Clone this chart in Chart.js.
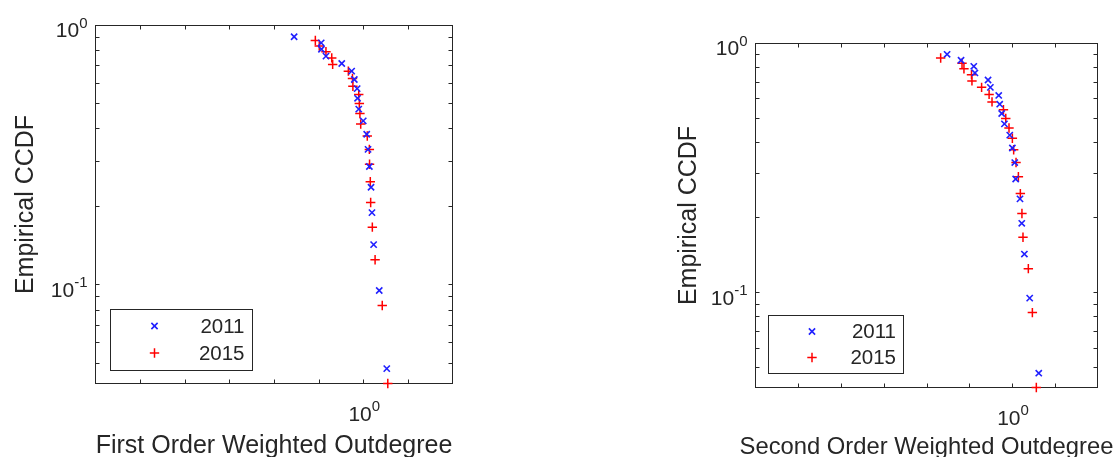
<!DOCTYPE html>
<html>
<head>
<meta charset="utf-8">
<script src="https://cdn.jsdelivr.net/npm/chart.js@4.4.1/dist/chart.umd.min.js"></script>
<style>
  html, body { margin: 0; padding: 0; background: #ffffff; }
  #wrap { position: relative; width: 1120px; height: 457px; overflow: hidden; }
  #wrap canvas { position: absolute; top: 0; }
</style>
</head>
<body>
<div id="wrap">
  <canvas id="firstOrder" width="560" height="457" style="left:0"></canvas>
  <canvas id="secondOrder" width="560" height="457" style="left:560px"></canvas>
</div>
<script>
// Series names
const yearLabels = ['2011', '2015'];

// Empirical CCDF levels of each year
const ccdf2011 = [0.905, 0.857, 0.810, 0.762, 0.714, 0.667, 0.619, 0.571, 0.524, 0.476,
                  0.429, 0.381, 0.333, 0.286, 0.238, 0.190, 0.143, 0.0952, 0.0476];
const ccdf2015 = [0.875, 0.833, 0.792, 0.750, 0.708, 0.667, 0.625, 0.583, 0.542, 0.500,
                  0.458, 0.417, 0.375, 0.333, 0.292, 0.250, 0.208, 0.167, 0.125, 0.0833, 0.0417];

// First order weighted outdegree
const firstOrder2011 = [0.700, 0.805, 0.806, 0.825, 0.895, 0.942, 0.955, 0.969, 0.971, 0.977,
                        1.000, 1.018, 1.025, 1.032, 1.041, 1.046, 1.055, 1.086, 1.129];
const firstOrder2015 = [0.781, 0.797, 0.825, 0.850, 0.854, 0.926, 0.946, 0.948, 0.977, 0.980,
                        0.983, 0.987, 1.021, 1.032, 1.033, 1.037, 1.039, 1.048, 1.063, 1.103, 1.135];

// Second order weighted outdegree
const secondOrder2011 = [0.705, 0.760, 0.814, 0.819, 0.879, 0.890, 0.931, 0.936, 0.946, 0.960,
                         0.988, 1.002, 1.015, 1.020, 1.044, 1.054, 1.069, 1.100, 1.155];
const secondOrder2015 = [0.681, 0.764, 0.772, 0.804, 0.806, 0.849, 0.884, 0.898, 0.955, 0.967,
                         0.984, 1.002, 1.009, 1.022, 1.035, 1.046, 1.055, 1.061, 1.092, 1.116, 1.140];

// Axis ranges and tick positions
const xRange = [0.2512, 1.5849];
const yRange = [0.0417, 1];
const xTickValues = [0.3162, 0.3981, 0.5012, 0.6310, 0.7943, 1, 1.2589];
const yTickValues = [0.05, 0.06, 0.07, 0.08, 0.09, 0.1, 0.2, 0.3, 0.4, 0.5, 0.6, 0.7, 0.8, 0.9, 1];
const xLabelValues = [1];
const yLabelValues = [0.1, 1];

const INK = '#262626';
const FAMILY = '"Liberation Sans", Arial, Helvetica, sans-serif';

function pairs(xs, ys) {
  return xs.map((x, i) => ({ x: x, y: ys[i] }));
}

// Tick label of the form 10^n with a raised exponent
function drawPower(ctx, value, x, baseY, anchor) {
  const exp = String(Math.round(Math.log10(value)));
  ctx.font = '21px ' + FAMILY;
  const wb = ctx.measureText('10').width;
  ctx.font = '15px ' + FAMILY;
  const we = ctx.measureText(exp).width;
  const total = wb + we;
  const left = anchor === 'right' ? x - total : x - total / 2;
  ctx.textAlign = 'left';
  ctx.textBaseline = 'alphabetic';
  ctx.fillStyle = INK;
  ctx.font = '21px ' + FAMILY;
  ctx.fillText('10', left, baseY);
  ctx.font = '15px ' + FAMILY;
  ctx.fillText(exp, left + wb, baseY - 9.5);
}

const boxedAxes = {
  id: 'boxedAxes',
  beforeDatasetsDraw(chart, args, opts) {
    const { ctx, chartArea: a } = chart;
    const xs = chart.scales.x, ys = chart.scales.y;
    const L = 4;
    ctx.save();
    ctx.strokeStyle = INK;
    ctx.lineWidth = 1;
    ctx.beginPath();
    xTickValues.forEach(v => {
      const px = Math.round(xs.getPixelForValue(v)) + 0.5;
      ctx.moveTo(px, a.bottom); ctx.lineTo(px, a.bottom - L);
      ctx.moveTo(px, a.top); ctx.lineTo(px, a.top + L);
    });
    yTickValues.forEach(v => {
      const py = Math.round(ys.getPixelForValue(v) - 0.5) + 0.5;
      ctx.moveTo(a.left, py); ctx.lineTo(a.left + L, py);
      ctx.moveTo(a.right, py); ctx.lineTo(a.right - L, py);
    });
    ctx.stroke();
    ctx.strokeRect(a.left, a.top, a.right - a.left, a.bottom - a.top);
    xLabelValues.forEach(v => {
      drawPower(ctx, v, xs.getPixelForValue(v) + 1, a.bottom + 37, 'center');
    });
    yLabelValues.forEach(v => {
      drawPower(ctx, v, a.left - 8, ys.getPixelForValue(v) + 11.8, 'right');
    });
    // x axis title, allowed to run past the plot box
    ctx.fillStyle = INK;
    ctx.font = opts.xTitleSize + 'px ' + FAMILY;
    ctx.textAlign = 'center';
    ctx.textBaseline = 'alphabetic';
    ctx.fillText(opts.xTitle, (a.left + a.right) / 2, a.bottom + opts.xTitleDrop);
    ctx.restore();
  },
  afterDatasetsDraw(chart, args, opts) {
    const { ctx, chartArea: a } = chart;
    const g = opts.legend;
    const left = a.left + g.dx;
    const bottom = a.bottom - g.dy;
    const top = bottom - g.h;
    ctx.save();
    ctx.fillStyle = '#ffffff';
    ctx.fillRect(left, top, g.w, g.h);
    ctx.strokeStyle = INK;
    ctx.lineWidth = 1;
    ctx.strokeRect(Math.round(left) + 0.5, Math.round(top) + 0.5, Math.round(g.w), Math.round(g.h));
    chart.data.datasets.forEach((ds, i) => {
      const cy = top + g.row0 + i * g.rowGap;
      ctx.strokeStyle = ds.borderColor;
      ctx.fillStyle = ds.backgroundColor;
      ctx.lineWidth = ds.pointBorderWidth;
      Chart.helpers.drawPoint(ctx, {
        pointStyle: ds.pointStyle,
        radius: ds.pointRadius,
        borderWidth: ds.pointBorderWidth,
        rotation: 0
      }, left + g.markerX, cy);
      ctx.fillStyle = INK;
      ctx.font = '20.5px ' + FAMILY;
      ctx.textAlign = 'right';
      ctx.textBaseline = 'middle';
      ctx.fillText(ds.label, left + g.w - g.textPad, cy + 1);
    });
    ctx.restore();
  }
};

function makeChart(id, xs2011, xs2015, xTitle, geom) {
  const blue = '#2020ff';
  const red = '#ff0000';
  return new Chart(document.getElementById(id), {
    type: 'scatter',
    data: {
      datasets: [
        {
          label: yearLabels[0],
          data: pairs(xs2011, ccdf2011),
          pointStyle: 'crossRot',
          pointRadius: 4.4,
          pointBorderWidth: 1.6,
          borderColor: blue,
          backgroundColor: blue,
          clip: false
        },
        {
          label: yearLabels[1],
          data: pairs(xs2015, ccdf2015),
          pointStyle: 'cross',
          pointRadius: 4.7,
          pointBorderWidth: 1.5,
          borderColor: red,
          backgroundColor: red,
          clip: false
        }
      ]
    },
    options: {
      responsive: false,
      devicePixelRatio: 1,
      animation: false,
      events: [],
      layout: { padding: { top: geom.top, right: geom.right, left: 0, bottom: 0 } },
      plugins: {
        legend: { display: false },
        tooltip: { enabled: false },
        boxedAxes: {
          legend: geom.legend,
          xTitle: xTitle,
          xTitleDrop: geom.xTitleDrop,
          xTitleSize: geom.xTitleSize
        }
      },
      elements: { point: { hoverRadius: 0 } },
      scales: {
        x: {
          type: 'logarithmic',
          min: xRange[0],
          max: xRange[1],
          ticks: { display: false },
          grid: { display: false },
          border: { display: false },
          afterFit(s) { s.height = geom.xHeight; }
        },
        y: {
          type: 'logarithmic',
          min: yRange[0],
          max: yRange[1],
          ticks: { display: false },
          grid: { display: false },
          border: { display: false },
          title: {
            display: true,
            text: 'Empirical CCDF',
            color: INK,
            font: { family: FAMILY, size: 25, lineHeight: 1.1 },
            padding: { top: geom.yTitlePad, bottom: 0 }
          },
          afterFit(s) { s.width = geom.yWidth; }
        }
      }
    },
    plugins: [boxedAxes]
  });
}

makeChart('firstOrder', firstOrder2011, firstOrder2015, 'First Order Weighted Outdegree', {
  top: 25.5, right: 107.5, xHeight: 73.5, yWidth: 95.5, yTitlePad: 12.3,
  xTitleDrop: 69, xTitleSize: 25,
  legend: { dx: 14, dy: 13.5, w: 142, h: 61, markerX: 45, row0: 17, rowGap: 27, textPad: 7 }
});

makeChart('secondOrder', secondOrder2011, secondOrder2015, 'Second Order Weighted Outdegree', {
  top: 43.5, right: 22.5, xHeight: 69.5, yWidth: 195.5, yTitlePad: 115.5,
  xTitleDrop: 66, xTitleSize: 23.8,
  legend: { dx: 12.5, dy: 14.5, w: 135, h: 58, markerX: 44, row0: 16.5, rowGap: 26, textPad: 7 }
});
</script>
</body>
</html>
